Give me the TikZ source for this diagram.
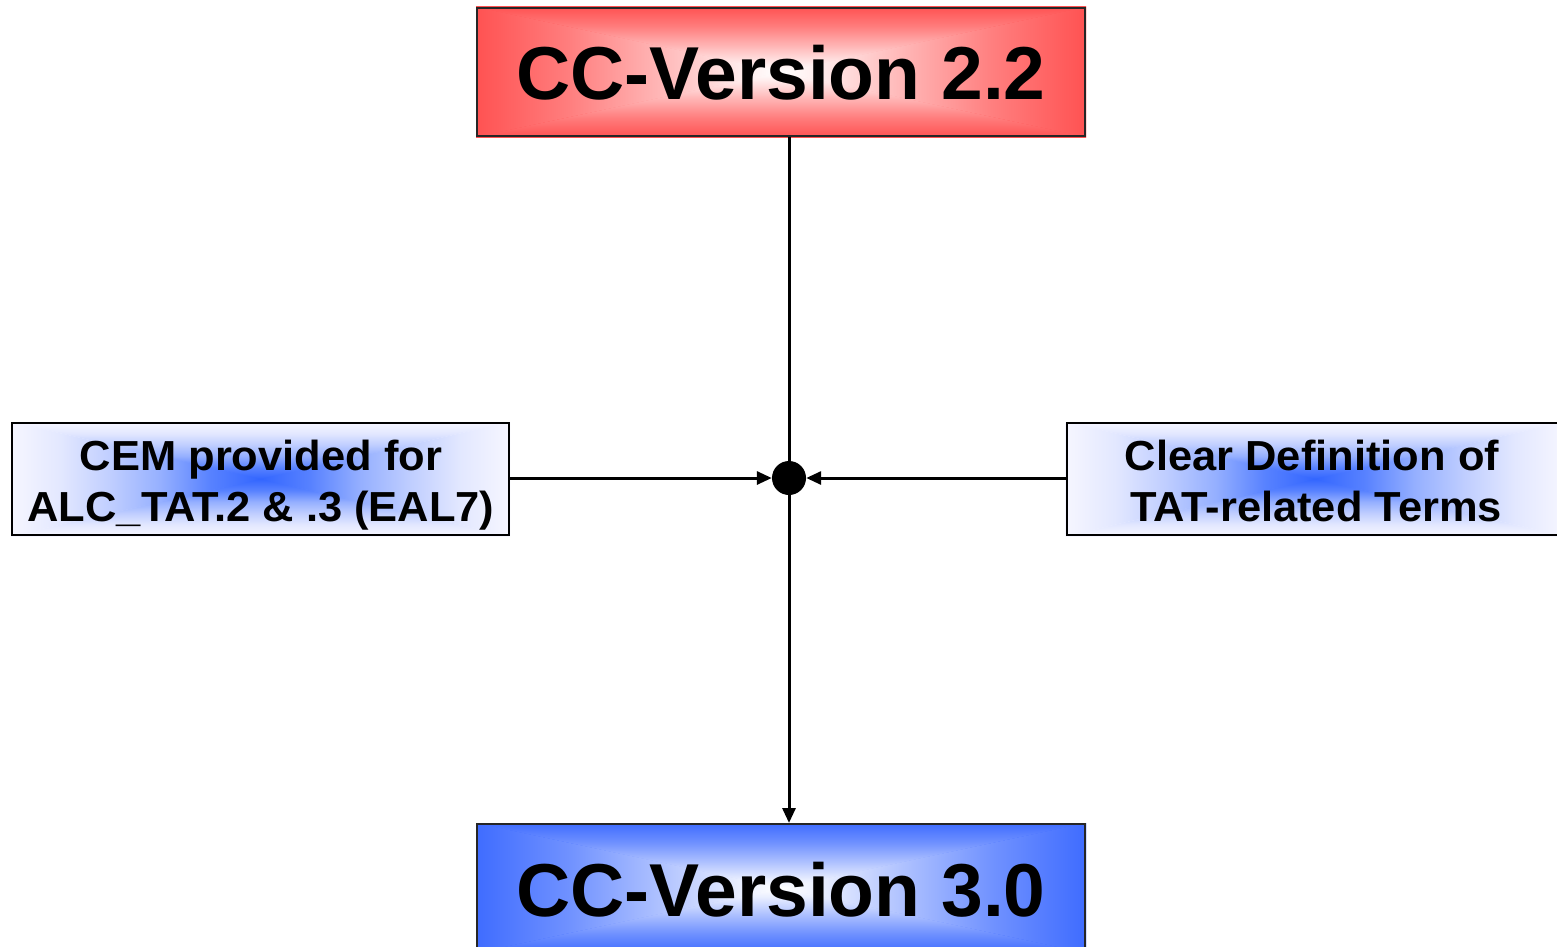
\documentclass[tikz,border=0pt]{standalone}
\usepackage{fontspec}
\setmainfont{Liberation Sans}
\newfontfamily\notefont[FakeStretch=1.035]{Liberation Sans}
\usetikzlibrary{arrows.meta,backgrounds}

\definecolor{verred}{HTML}{FF5252}
\definecolor{verblue}{HTML}{3F6CFF}
\definecolor{blobblue}{HTML}{3366FF}
\definecolor{paleblue}{HTML}{F6F6FF}

% Edge-to-centre fades (25bp = box edge, 75bp = box centre)
\pgfdeclareverticalshading{redfade}{100bp}{color(0bp)=(verred); color(25bp)=(verred); color(40bp)=(verred!75); color(55bp)=(verred!42); color(68bp)=(verred!12); color(75bp)=(white); color(100bp)=(white)}
\pgfdeclareverticalshading{bluefade}{100bp}{color(0bp)=(verblue); color(25bp)=(verblue); color(40bp)=(verblue!75); color(55bp)=(verblue!42); color(68bp)=(verblue!12); color(75bp)=(white); color(100bp)=(white)}
\pgfdeclareverticalshading{blobfade}{100bp}{color(0bp)=(paleblue); color(25bp)=(paleblue); color(35bp)=(blobblue!10!paleblue); color(45bp)=(blobblue!28!paleblue); color(55bp)=(blobblue!52!white); color(65bp)=(blobblue!82!white); color(75bp)=(blobblue); color(100bp)=(blobblue)}

% Shade a rectangular node as four triangles meeting at its centre,
% over a radial base so the diagonal seams stay quiet
\newcommand\centrefill[4]{%
  \shade[inner color=#3, outer color=#4] (#1.south west) rectangle (#1.north east);
  \shade[shading=#2, shading angle=0]   (#1.south west) -- (#1.south east) -- (#1.center) -- cycle;
  \shade[shading=#2, shading angle=180] (#1.north east) -- (#1.north west) -- (#1.center) -- cycle;
  \shade[shading=#2, shading angle=270] (#1.north west) -- (#1.south west) -- (#1.center) -- cycle;
  \shade[shading=#2, shading angle=90]  (#1.south east) -- (#1.north east) -- (#1.center) -- cycle;
}

\tikzset{
  verbox/.style={draw=black!85, line width=2pt, minimum width=608pt, minimum height=128pt, inner sep=0pt},
  notebox/.style={draw=black, line width=2pt, minimum width=497pt, minimum height=112pt, inner sep=0pt},
  bigtext/.style={anchor=base, inner sep=0pt, font=\fontsize{75}{90}\selectfont\bfseries},
  smalltext/.style={anchor=base, inner sep=0pt, font=\notefont\fontsize{42}{51}\selectfont\bfseries},
  link/.style={line width=3pt, black},
  tip/.style={-{Triangle[length=15pt,width=13pt]}},
}

\begin{document}
\begin{tikzpicture}[x=1pt, y=-1pt]
  \useasboundingbox (0,0) rectangle (1557,947);

  % boxes
  \node[verbox]   (v22)  at (781,72)    {};
  \node[verbox]   (v30)  at (781,888)   {};
  \node[notebox]  (cem)  at (260.5,479) {};
  \node[notebox]  (tat)  at (1315,479)  {};
  \node[circle, fill=black, inner sep=0pt, minimum size=34pt] (hub) at (789,478) {};

  \begin{scope}[on background layer]
    \centrefill{v22}{redfade}{white}{verred}
    \centrefill{v30}{bluefade}{white}{verblue}
    \centrefill{cem}{blobfade}{blobblue}{paleblue}
    \centrefill{tat}{blobfade}{blobblue}{paleblue}
  \end{scope}

  % labels
  \node[bigtext]   (t22)  at (781,100)   {CC-Version 2.2};
  \node[bigtext]   (t30)  at (781,916)   {CC-Version 3.0};
  \node[smalltext] (cem1) at (261,470)   {CEM provided for};
  \node[smalltext] (cem2) at (261,521)   {ALC\_TAT.2 \& .3 (EAL7)};
  \node[smalltext] (tat1) at (1312,470)  {Clear Definition of};
  \node[smalltext] (tat2) at (1316,521)  {TAT-related Terms};

  % connectors
  \draw[link] (v22.south -| hub) -- (hub);
  \draw[link, tip] (hub) -- (v30.north -| hub);
  \draw[link, tip] (cem.east |- hub) -- (hub);
  \draw[link, tip] (tat.west |- hub) -- (hub);
\end{tikzpicture}
\end{document}
